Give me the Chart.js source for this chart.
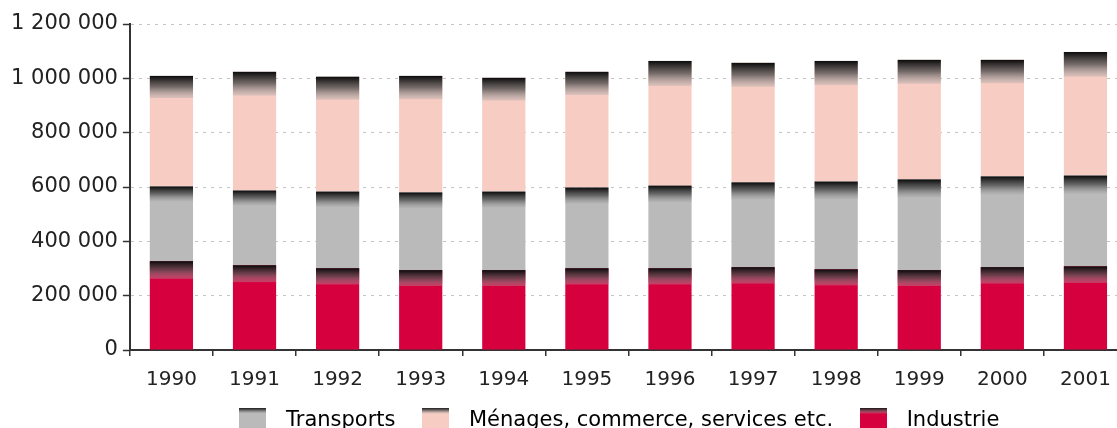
<!DOCTYPE html>
<html>
<head>
<meta charset="utf-8">
<script src="https://cdn.jsdelivr.net/npm/chart.js@4.4.1/dist/chart.umd.min.js"></script>
<style>
  html, body { margin: 0; padding: 0; background: #fff; overflow: hidden; }
  #wrap { width: 1117px; height: 428px; overflow: hidden; }
</style>
</head>
<body>
<div id="wrap"><canvas id="chart" width="1130" height="452"></canvas></div>
<script>
const years = ["1990", "1991", "1992", "1993", "1994", "1995", "1996", "1997", "1998", "1999", "2000", "2001"];
const industrie = [327000, 312000, 301000, 294000, 294000, 301000, 301000, 305000, 297000, 294000, 305000, 308000];
const transports = [275000, 275000, 282000, 286000, 289000, 297000, 304000, 312000, 323000, 334000, 334000, 334000];
const menages = [407000, 437000, 423000, 429000, 419000, 426000, 459000, 440000, 444000, 440000, 429000, 455000];
const yTicks = [0, 200000, 400000, 600000, 800000, 1000000, 1200000];

const colors = {
  industrie: "#d7003f",
  transports: "#bababa",
  menages: "#f7ccc3",
};

const fontFamily = "'DejaVu Sans', Verdana, sans-serif";

function fmt(v) {
  return String(v).replace(/\B(?=(\d{3})+(?!\d))/g, " ");
}

function capGradient(ctx, top, h) {
  const g = ctx.createLinearGradient(0, top, 0, top + h);
  g.addColorStop(0, "rgba(10,10,10,1)");
  g.addColorStop(0.5, "rgba(80,80,80,0.78)");
  g.addColorStop(1, "rgba(170,170,170,0.35)");
  return g;
}

// small canvas used as legend box
function legendBox(color) {
  const c = document.createElement("canvas");
  c.width = 27;
  c.height = 26;
  const ctx = c.getContext("2d");
  ctx.fillStyle = color;
  ctx.fillRect(0, 0, 27, 26);
  const h = 26 * 0.22;
  ctx.fillStyle = capGradient(ctx, 0, h);
  ctx.fillRect(0, 0, 27, h);
  return c;
}

// dark gradient on the top fifth of every bar segment
const barCaps = {
  id: "barCaps",
  afterDatasetsDraw(chart) {
    const ctx = chart.ctx;
    chart.data.datasets.forEach((ds, i) => {
      const meta = chart.getDatasetMeta(i);
      meta.data.forEach((el) => {
        const { x, y, base, width } = el.getProps(["x", "y", "base", "width"], true);
        const top = Math.min(y, base);
        const h = Math.abs(base - y) * 0.2;
        ctx.save();
        ctx.fillStyle = capGradient(ctx, top, h);
        ctx.fillRect(x - width / 2, top, width, h);
        ctx.restore();
      });
    });
  },
};

// nudge the legend a little up and left
const legendShift = {
  id: "legendShift",
  afterLayout(chart) {
    const lg = chart.legend;
    lg.left -= 14;
    lg.right -= 14;
    lg.top -= 11;
    lg.bottom -= 11;
  },
};

const legendOrder = [1, 2, 0];

new Chart(document.getElementById("chart"), {
  type: "bar",
  data: {
    labels: years,
    datasets: [
      { label: "Industrie", data: industrie, backgroundColor: colors.industrie },
      { label: "Transports", data: transports, backgroundColor: colors.transports },
      { label: "Ménages, commerce, services etc.", data: menages, backgroundColor: colors.menages },
    ],
  },
  options: {
    responsive: false,
    animation: false,
    layout: { padding: { top: 24, left: 6, right: 3, bottom: 0 } },
    datasets: {
      bar: { barPercentage: 0.52, categoryPercentage: 1, borderWidth: 0 },
    },
    scales: {
      x: {
        stacked: true,
        grid: {
          drawOnChartArea: false,
          tickLength: 6,
          tickColor: "#333",
          lineWidth: 1.5,
        },
        border: { color: "#333", width: 2 },
        ticks: {
          color: "#222",
          padding: 12,
          font: { family: fontFamily, size: 20 },
        },
      },
      y: {
        stacked: true,
        min: 0,
        max: 1200000,
        afterBuildTicks(axis) {
          axis.ticks = yTicks.map((v) => ({ value: v }));
        },
        grid: {
          color: "#c4c4c4",
          lineWidth: 1,
          tickLength: 7,
          tickColor: "#333",
          tickWidth: 1.5,
          tickBorderDash: [],
        },
        border: { color: "#333", width: 2, dash: [3, 5] },
        ticks: {
          color: "#222",
          padding: 5,
          font: { family: fontFamily, size: 21 },
          callback: (v) => fmt(v),
        },
      },
    },
    plugins: {
      tooltip: { enabled: false },
      legend: {
        position: "bottom",
        fullSize: false,
        labels: {
          color: "#222",
          font: { family: fontFamily, size: 21 },
          usePointStyle: true,
          pointStyleWidth: 46,
          boxHeight: 21,
          padding: 17,
          generateLabels(chart) {
            return legendOrder.map((i) => {
              const ds = chart.data.datasets[i];
              return {
                text: ds.label,
                datasetIndex: i,
                pointStyle: legendBox(ds.backgroundColor),
                fillStyle: ds.backgroundColor,
                strokeStyle: ds.backgroundColor,
                lineWidth: 0,
                hidden: false,
              };
            });
          },
        },
      },
    },
  },
  plugins: [barCaps, legendShift],
});
</script>
</body>
</html>
